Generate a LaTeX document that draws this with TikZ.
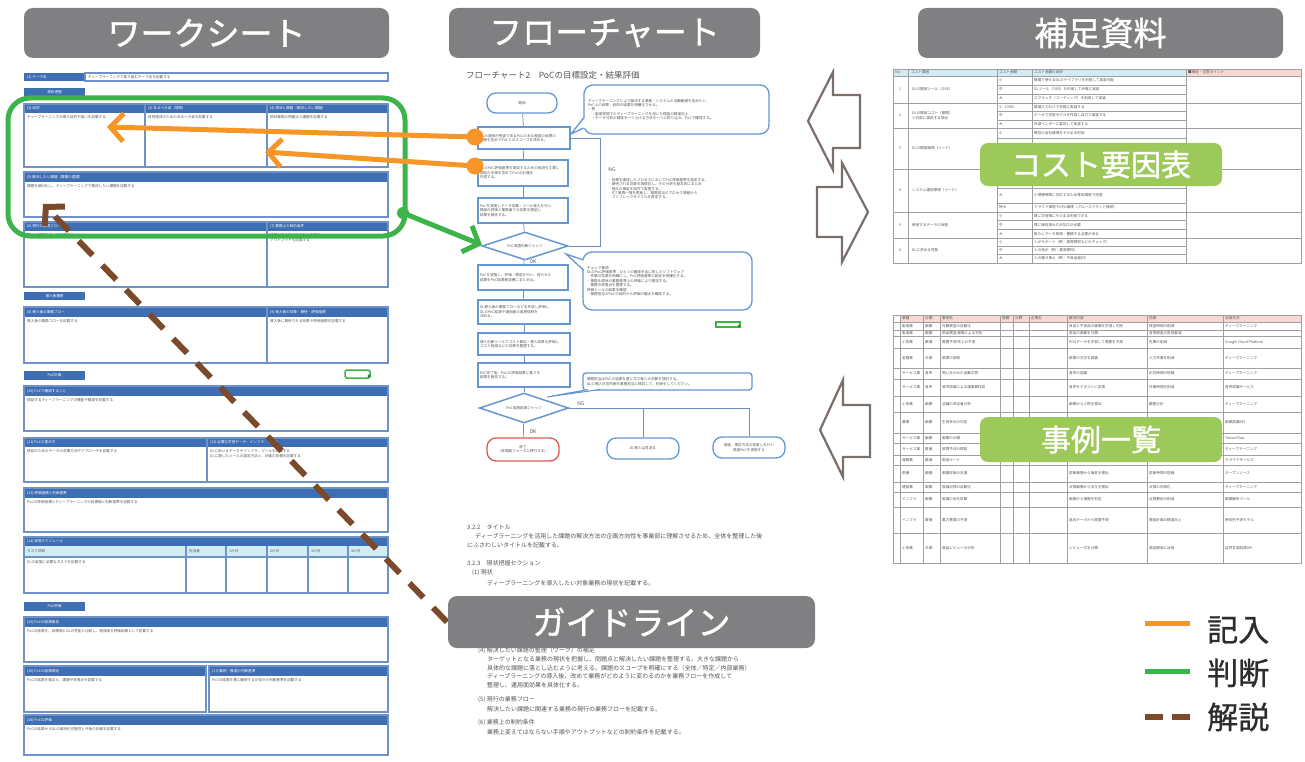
\documentclass[tikz,border=0pt]{standalone}
\usepackage{fontspec}
\setmainfont{Noto Sans CJK JP}
\newfontfamily\hdfont[FakeBold=1.2]{Noto Sans CJK JP}
\newfontfamily\lgfont[FakeBold=0.8]{Noto Sans CJK JP}
\usetikzlibrary{arrows.meta,shapes.geometric}
\definecolor{hdgray}{RGB}{128,128,130}
\definecolor{lblgreen}{RGB}{156,201,90}
\definecolor{wsblue}{RGB}{62,110,180}
\definecolor{wsedge}{RGB}{110,145,200}
\definecolor{orng}{RGB}{247,150,40}
\definecolor{grn}{RGB}{60,180,74}
\definecolor{brwn}{RGB}{122,74,43}
\definecolor{harrow}{RGB}{123,111,107}
\definecolor{fblue}{RGB}{100,150,210}
\definecolor{fred}{RGB}{220,90,80}
\definecolor{tgrid}{RGB}{160,160,160}
\definecolor{thblue}{RGB}{210,236,244}
\definecolor{thpink}{RGB}{248,216,208}
\definecolor{txtgray}{RGB}{85,85,85}
\definecolor{legtxt}{RGB}{45,45,45}
\newcommand\fsm{\fontsize{3.6}{4.4}\selectfont}
\newcommand\wsec[7]{%
  \fill[wsblue] (#1,#2) rectangle (#3,#4);
  \draw[wsline] (#1,#2) rectangle (#3,#5);
  \node[wshd] at (#1,{(#2+#4)/2}) {#6};
  \node[wsbd] at (#1,#4) {#7};}
\newcommand\wtab[3]{%
  \fill[wsblue] (24,#1) rectangle (85,#2);
  \node[text=white,font=\fsm,inner sep=0pt] at (54.5,{(#1+#2)/2}) {#3};}
\tikzset{
  hdr/.style={fill=hdgray, rounded corners=9pt, text=white, font=\hdfont\fontsize{33}{36}\selectfont, inner sep=0pt},
  glbl/.style={fill=lblgreen, rounded corners=8pt, text=white, font=\hdfont\fontsize{30}{33}\selectfont, inner sep=0pt},
  wsline/.style={draw=wsedge, line width=1.1pt},
  wshd/.style={anchor=west, text=white, font=\fsm, inner sep=0pt, xshift=3pt},
  wsbd/.style={anchor=north west, text=txtgray, font=\fsm, inner sep=0pt, xshift=3pt, yshift=-2.5pt, align=left},
  fbox/.style={draw=fblue, line width=1.3pt, fill=white, font=\fsm, text=txtgray, inner sep=2pt, align=left},
  fterm/.style={draw=fblue, line width=1.3pt, fill=white, font=\fsm, text=txtgray, inner sep=1pt, align=center, rounded corners=9pt},
  fdia/.style={draw=fblue, line width=1.5pt, fill=white, diamond, aspect=3, inner sep=0pt, font=\fsm, text=txtgray},
  fcon/.style={draw=fblue!70!gray, line width=0.7pt},
  flab/.style={font=\fontsize{5}{6}\selectfont, text=txtgray, inner sep=0pt},
  gtxt/.style={anchor=west, font=\fontsize{6}{7}\selectfont, text=txtgray, inner sep=0pt},
  tt/.style={anchor=west, font=\fsm, text=txtgray, inner sep=0pt},
  tline/.style={draw=tgrid, line width=0.6pt},
  harr/.style={draw=harrow, line width=2.2pt, fill=white, line join=miter},
  oarrow/.style={orng, line width=5pt, -{Straight Barb[length=13pt,width=28pt]}},
  garrow/.style={grn, line width=5pt, -{Straight Barb[length=13pt,width=28pt]}},
  barrow/.style={brwn, line width=6pt, dash pattern=on 20pt off 14pt, -{Straight Barb[length=13pt,width=28pt]}},
  legtext/.style={anchor=west, text=legtxt, font=\lgfont\fontsize{31}{34}\selectfont, inner sep=0pt}
}
\begin{document}
\begin{tikzpicture}[x=1pt,y=-1pt]
\useasboundingbox (0,0) rectangle (1305,762);
\fill[white] (0,0) rectangle (1305,762);

%================ worksheet =================
\fill[wsblue] (24,73) rectangle (85,81);
\node[wshd] (wst) at (24,77) {(1) テーマ名};
\draw[wsline] (85,73) rectangle (388,81);
\node[tt] (wstt) at (88,77) {ディープラーニングで取り組むテーマ名を記載する};
\wtab{88}{97}{現状把握}
\wsec{24}{104}{145}{113}{167}{(2) 目的}{ディープラーニングの導入目的や狙いを記載する}
\wsec{145}{104}{267}{113}{167}{(3) あるべき姿（理想）}{目的達成のためのあるべき姿を記載する}
\wsec{267}{104}{388}{113}{167}{(4) 現状と課題（解決したい課題）}{現状業務の問題点と課題を記載する}
\wsec{24}{172}{388}{182}{217}{(5) 解決したい課題（課題の整理）}{課題を細分化し、ディープラーニングで解決したい課題を記載する}
\wsec{24}{222}{267}{231}{287}{(6) 現行の業務フロー}{現行の業務フローを記載する}
\wsec{267}{222}{388}{231}{287}{(7) 業務上の制約条件}{業務上変えてはならない手順や\\アウトプットを記載する}
\wtab{292}{300}{導入後構想}
\wsec{24}{307}{267}{317}{363}{(8) 導入後の業務フロー}{導入後の業務フローを記載する}
\wsec{267}{307}{388}{317}{363}{(9) 導入後の効果・期待・評価指標}{導入後に期待される効果や評価指標を記載する}
\wtab{371}{380}{PoC計画}
\draw[grn, line width=1.5pt, fill=white, rounded corners=1.5pt] (345,370) rectangle (370,378);
\fill[grn!70!black] (369,376) circle (1.6);
\wsec{24}{386}{388}{396}{431}{(10) PoCで確認すること}{検証するディープラーニングの機能や精度を記載する}
\wsec{24}{438}{207}{447}{482}{(11) PoCの進め方}{検証のためのデータの収集方法やアプローチを記載する}
\wsec{207}{438}{388}{447}{482}{(12) 必要な学習データ・インフラ・ツール}{DLに用いるデータやインフラ、ツールを記載する\\DLに適したツールの選定方法と、計画の見積を記載する}
\wsec{24}{488}{388}{498}{532}{(13) 評価指標と判断基準}{PoCの評価指標とディープラーニングの目標値と判断基準を記載する}
\wsec{24}{537}{388}{546}{593}{(14) 実施スケジュール}{}
\fill[thblue] (24,546) rectangle (388,557);
\draw[wsline] (24,537) rectangle (388,593);
\draw[wsline] (24,557) -- (388,557);
\foreach \x in {186,226,267,308,348} \draw[wsline] (\x,546) -- (\x,593);
\foreach \x/\t in {27/タスク項目,189/担当者,229/1か月,270/2か月,311/3か月,351/4か月}
  \node[tt] at (\x,551.5) {\t};
\node[tt] (ws14) at (27,562) {DLの実施に必要なタスクを記載する};
\wtab{602}{611}{PoC評価}
\wsec{24}{617}{388}{627}{662}{(15) PoCの結果報告}{PoCの結果を、目標値とDLの性能と比較し、達成度を評価結果として記載する}
\wsec{24}{666}{206}{676}{712}{(16) PoCの結果検証}{PoCの結果を踏まえ、課題や改善点を記載する}
\wsec{209}{666}{388}{676}{712}{(17) 継続・撤退の判断基準}{PoCの結果を基に継続するか否かの判断基準を記載する}
\wsec{24}{715}{388}{725}{755}{(18) PoCの評価}{PoCの結果からDLの実用化可能性と今後の計画を記載する}

%================ flowchart =================
\node[anchor=west, font=\fontsize{8.5}{9}\selectfont, text=txtgray, inner sep=0pt] (ftitle) at (466,75) {フローチャート2　PoCの目標設定・結果評価};
\node[fterm, minimum width=70pt, minimum height=20pt] (fstart) at (522,103) {開始};
\node[fbox, text width=88pt, minimum height=22pt] (fb1) at (524,138) {DLの適用が有望であるPoCのある程度の目標の\\範囲を定めてPoCとのスコープを決める。};
\node[fbox, text width=86pt, minimum height=26pt] (fb2) at (523,173) {DLのPoC評価基準を達成するための仮説を立案し\\検証の手順を含めてPoCの計画を\\作成する。};
\node[fbox, text width=86pt, minimum height=25pt] (fb3) at (523,210.5) {PoCを実施しデータ収集・ツール導入を行い\\精度の評価と業務面での効果を検証し\\結果を報告する。};
\node[fdia, minimum width=86pt, minimum height=28pt] (fd1) at (525,246) {PoC実施判断ジャッジ};
\node[fbox, text width=86pt, minimum height=25pt] (fb4) at (523,277.5) {PoCを実施し、評価・検証を行い、得られた\\結果をPoC結果報告書にまとめる。};
\node[fbox, text width=88pt, minimum height=24pt] (fb5) at (524,312) {DL導入後の業務フローなどを作成し評価し\\DLのPoC結果や運用面の実施体制を\\決める。};
\node[fbox, text width=88pt, minimum height=22pt] (fb6) at (524,344) {導入判断ツールでコスト算出・導入効果を評価し\\コスト削減などの効果を整理する。};
\node[fbox, text width=88pt, minimum height=24pt] (fb7) at (524,375) {PoC完了後、PoCの評価結果に基づき\\結果を報告する。};
\node[fdia, minimum width=89pt, minimum height=30pt] (fd2) at (524,408) {PoC実施結果ジャッジ};
\node[fterm, draw=fred, minimum width=72pt, minimum height=23pt] (ft1) at (523,449.5) {終了\\(本開発フェーズに移行する)};
\node[fterm, minimum width=72pt, minimum height=21pt] (ft2) at (643,448.5) {DL導入は見送る};
\node[fterm, minimum width=72pt, minimum height=21pt] (ft3) at (749,447.5) {再度、検討方法の見直しを行い\\再度PoCを実施する};
% connectors
\draw[fcon] (fstart) -- (fb1);
\draw[fcon] (fb1) -- (fb2);
\draw[fcon] (fb2) -- (fb3);
\draw[fcon] (fb3) -- (fd1);
\draw[fcon] (fd1) -- (fb4);
\draw[fcon] (fb4) -- (fb5);
\draw[fcon] (fb5) -- (fb6);
\draw[fcon] (fb6) -- (fb7);
\draw[fcon] (fb7) -- (fd2);
\draw[fcon] (fd2) -- (ft1);
\coordinate (ngl1) at (600,138);
\coordinate (ngl2) at (600,246);
\draw[fcon] (fb1.east) -- (ngl1) -- (ngl2) -- (fd1.east);
\coordinate (ngA) at (643,408);
\coordinate (ngB) at (749,408);
\draw[fcon] (fd2.east) -- (ngB) -- (ft3.north);
\draw[fcon] (ngA) -- (ft2.north);
\node[flab] (lng1) at (612,170) {NG};
\node[flab] (lok1) at (533,262) {OK};
\node[flab] (lng2) at (581,404) {NG};
\node[flab] (lok2) at (533,432) {OK};
\node[anchor=north west, font=\fsm, text=txtgray, inner sep=0pt, align=left] (ngtxt) at (608,178)
 {・目標を達成したプロセスにおいてPoC評価基準を設定する。\\・期待される効果を再検討し、その分析を基本的にまとめ\\　強化の検証を試作で実施する。\\・ICT-業務一覧を更新し、業務担当のプロセス情報から\\　ブリフレックサイクルを再定する。};
% callouts
\node[fbox, rounded corners=9pt, text width=177pt, minimum height=49pt, inner sep=4pt] (fc1) at (676.5,109.5)
 {ディープラーニングにより解決する業務・システムの活動範囲を定めたい\\PoC上の目標・目的の結果を明確化させる。\\・例\\　・製造現場でのディープラーニングを用いた検査の精度向上\\　・データ分析の精度を一つ上げる方法を一つに絞り込み、PoCで確認する。};
\fill[white] (585,118) -- (571,134) -- (585,128) -- cycle;
\draw[fblue, line width=1.3pt] (583.5,118) -- (571,134) -- (583.5,128);
\node[fbox, rounded corners=9pt, text width=161pt, minimum height=58pt, inner sep=4pt] (fc2) at (667.5,281)
 {チェック事項\\DLのPoC評価基準：ひとつの開発手法に則したソフトウェア\\・作業の効果を明確にし、PoC評価基準の設定を明確化する。\\・業務を現状の業務基準上の評価により検証する。\\　業務の改善点を整理する。\\評価ツールの結果を確認\\・業務担当のPoCの目的から評価の観点を確認する。};
\fill[white] (585,260) -- (566,254) -- (585,270) -- cycle;
\draw[fblue, line width=1.3pt] (583.5,260) -- (566,254) -- (583.5,270);
\node[fbox, rounded corners=3pt, text width=161pt, minimum height=17pt, inner sep=4pt] (fc3) at (667.5,381.5)
 {業務担当はPoCの結果を基に次工程への判断を検討する。\\DLの導入可否判断を業務担当と検討して、判断をしてください。};
\fill[white] (588,389) -- (547,397) -- (600,389) -- cycle;
\draw[fblue, line width=1pt] (588,389.5) -- (547,397) -- (600,389.5);
\draw[grn, line width=1.2pt, fill=white] (716,322) rectangle (740,327);
\fill[grn!70!black] (739,326) circle (1.3);

%================ guideline text =================
\node[gtxt] (g1) at (467,527) {3.2.2　タイトル};
\node[gtxt] (g2) at (475,536) {ディープラーニングを活用した課題の解決方法の企画方向性を事業部に理解させるため、全体を整理した後};
\node[gtxt] (g3) at (467,545) {にふさわしいタイトルを記載する。};
\node[gtxt] (g4) at (467,563) {3.2.3　現状把握セクション};
\node[gtxt] (g5) at (472,573) {(1) 現状};
\node[gtxt] (g6) at (487,583) {ディープラーニングを導入したい対象業務の現状を記載する。};
\node[gtxt] (g7) at (478,651) {(4) 解決したい課題の整理（ワーク）の補足};
\node[gtxt] (g8) at (487,659.5) {ターゲットとなる業務の現状を把握し、問題点と解決したい課題を整理する。大きな課題から};
\node[gtxt] (g9) at (487,668) {具体的な課題に落とし込むように考える。課題のスコープを明確にする（全体／特定／内部業務）};
\node[gtxt] (g10) at (487,676.5) {ディープラーニングの導入後、改めて業務がどのように変わるのかを業務フローを作成して};
\node[gtxt] (g11) at (487,685) {整理し、運用面効果を具体化する。};
\node[gtxt] (g12) at (478,700) {(5) 現行の業務フロー};
\node[gtxt] (g13) at (487,709) {解決したい課題に関連する業務の現行の業務フローを記載する。};
\node[gtxt] (g14) at (478,723) {(6) 業務上の制約条件};
\node[gtxt] (g15) at (487,732) {業務上変えてはならない手順やアウトプットなどの制約条件を記載する。};

%================ cost table =================
\fill[thblue] (893,69) rectangle (1186,76);
\fill[thpink] (1186,69) rectangle (1301,76);
\foreach \x in {908,997,1032,1186} \draw[tline] (\x,69) -- (\x,263);
\foreach \y in {76,103,128,169,212,238} \draw[tline] (893,\y) -- (1301,\y);
\foreach \y in {85,94,111,120,138,148,158,178,188,203,220.7,229.3,246,254} \draw[tline] (997,\y) -- (1186,\y);
\draw[tline] (893,69) rectangle (1301,263);
\node[tt] at (895,72.5) {No.};
\node[tt] at (911,72.5) {コスト要因};
\node[tt] at (999,72.5) {コスト金額};
\node[tt] at (1034,72.5) {コスト金額の目安};
\node[tt] at (1188,72.5) {■補足・注意ポイント};
\foreach \n/\y in {1/89.5,2/115.5,3/148.5,4/190.5,5/225,6/250.5} \node[tt] at (899,\y) {\n};
\node[tt] at (912,89.5) {DLの開発ツール（OSS）};
\node[tt, align=left] at (912,115.5) {DLの開発コスト（期間）\\※外部に委託する場合};
\node[tt] at (912,148.5) {DLの開発環境（リード）};
\node[tt] at (912,190.5) {システム運用環境（リード）};
\node[tt] at (912,225) {使用するデータの状態};
\node[tt] at (912,250.5) {DLに求める性能};
\foreach \y/\a/\b in {
  80.5/小/無償で使えるDLのライブラリを利用して実装可能,
  89.5/中/DLツール（OSS）を利用して手軽に実装,
  98.5/大/スクラッチ（コーディング）を利用して実装,
  107/小（OSS）/数値入力だけで手軽に実装する,
  115.5/中/データで学習モデルを作成し自力で実装する,
  124/大/外部ベンダーに委託して実装する,
  133/小/既存の自社環境をそのまま利用,
  195.5/大/小規模時間に対応するため専用環境で用意,
  207.5/特大/クラウド環境でGPU環境（クローズドネット接続）,
  216.3/小/既に学習用にそのまま利用できる,
  225/中/既に保存済みだが加工が必要,
  233.7/大/新たにデータ取得・蓄積する必要がある,
  242/小/人がサポート（例：故障検知などのチェック）,
  250/中/人の指示（例：異常検知）,
  258.5/大/人の置き換え（例：不良品選別）}
{ \node[tt] at (999,\y) {\a}; \node[tt] at (1034,\y) {\b}; }

%================ case table =================
\fill[thpink] (900,315) rectangle (1301,322);
\foreach \x in {900,923,940,1000,1013,1029,1067,1147,1223} \draw[tline] (\x,315) -- (\x,563);
\foreach \y in {322,330,336,348,368,379,396,412,433,443,455,465,482,492,507,533} \draw[tline] (893,\y) -- (1301,\y);
\draw[tline] (893,315) rectangle (1301,563);
\foreach \x/\t in {902/業種,925/分類,942/事例名,1002/規模,1015/分野,1031/企業名,1069/解決内容,1149/効果,1225/活用手法}
  \node[tt] at (\x,318.5) {\t};
\foreach \ya/\yb/\i/\t/\n/\c/\e/\m in {
  322/330/製造業/画像/外観検査の自動化/良品と不良品の画像を学習し判別/検査時間の削減/ディープラーニング,
  330/336/製造業/画像/部品検査 画像による判別/部品の画像を分類/目視検査の負担軽減/ ,
  336/348/小売業/数値/需要予測 売上の予測/POSデータを学習して需要を予測/在庫の削減/Google Cloud Platform,
  348/368/金融業/文章/帳票の読取/帳票の文字を認識/入力作業を削減/ディープラーニング,
  368/379/サービス業/音声/問い合わせの自動応答/音声の認識/応対時間の短縮/ディープラーニング,
  379/396/サービス業/音声/音声認識による議事録作成/音声をテキストに変換/作業時間を削減/音声認識サービス,
  396/412/小売業/画像/店舗の来店者分析/画像から人物を検出/顧客分析/ディープラーニング,
  412/433/農業/画像/生育状況の判定/ / /画像認識API,
  433/443/サービス業/画像/画像の分類/ / /TensorFlow,
  443/455/サービス業/数値/故障予兆の検知/ / /ディープラーニング,
  455/465/運輸業/数値/配送ルート/ / /クラウドサービス,
  465/482/医療/画像/画像診断の支援/診断画像から病変を検出/診断時間の短縮/オープンソース,
  482/492/建設業/画像/設備点検の自動化/点検画像から劣化を検出/点検の効率化/ディープラーニング,
  492/507/インフラ/画像/設備の劣化診断/画像から損傷を判定/点検費用の削減/画像解析ツール,
  507/533/インフラ/数値/電力需要の予測/過去データから需要予測/需給計画の精度向上/時系列予測モデル,
  533/563/小売業/文章/商品レビューの分析/レビュー文を分類/商品開発に活用/自然言語処理API}
{
  \node[tt] at (902,{(\ya+\yb)/2}) {\i};
  \node[tt] at (925,{(\ya+\yb)/2}) {\t};
  \node[tt] at (942,{(\ya+\yb)/2}) {\n};
  \node[tt] at (1069,{(\ya+\yb)/2}) {\c};
  \node[tt] at (1149,{(\ya+\yb)/2}) {\e};
  \node[tt] at (1225,{(\ya+\yb)/2}) {\m};
}

%================ hollow arrows =================
\draw[harr] (808,121) -- (833,72) -- (833,95) -- (860,95) -- (860,148) -- (833,148) -- (833,170) -- cycle;
\draw[harr] (868,212) -- (842,163) -- (842,187) -- (817,187) -- (817,237) -- (842,237) -- (842,262) -- cycle;
\draw[harr] (820,430) -- (843,380) -- (843,405) -- (870,405) -- (870,457) -- (843,457) -- (843,477) -- cycle;

%================ highlight and connectors =================
\draw[grn, line width=5pt, rounded corners=22pt] (8,98) rectangle (405,236);
\coordinate (gs) at (403,213);
\coordinate (ge) at (482,245);
\fill[grn] (gs) circle (6);
\draw[garrow] (gs) -- (ge);
\coordinate (bs) at (447,622);
\coordinate (be) at (43,204);
\draw[barrow] (bs) -- (be);
\coordinate (o1s) at (475,137);
\coordinate (o1e) at (107,127);
\coordinate (o2s) at (475,166);
\coordinate (o2e) at (265,152);
\draw[oarrow] (o1s) -- (o1e);
\draw[oarrow] (o2s) -- (o2e);
\fill[orng] (o1s) circle (8.5);
\fill[orng] (o2s) circle (8.5);

%================ headers and labels =================
\node[hdr, minimum width=365pt, minimum height=50pt] (h1) at (206.5,33) {ワークシート};
\node[hdr, minimum width=311pt, minimum height=50pt] (h2) at (604.5,33) {フローチャート};
\node[hdr, minimum width=365pt, minimum height=50pt] (h3) at (1100.5,33) {補足資料};
\node[hdr, minimum width=367pt, minimum height=52pt] (h4) at (631.5,622) {ガイドライン};
\node[glbl, minimum width=242pt, minimum height=43pt] (l1) at (1101,164.5) {コスト要因表};
\node[glbl, minimum width=242pt, minimum height=45pt] (l2) at (1101,439.5) {事例一覧};

%================ legend =================
\coordinate (lo1) at (1145,623); \coordinate (lo2) at (1190,623);
\coordinate (lg1) at (1145,671); \coordinate (lg2) at (1190,671);
\draw[orng, line width=5pt] (lo1) -- (lo2);
\draw[grn, line width=5pt] (lg1) -- (lg2);
\draw[brwn, line width=5.5pt] (1145,717) -- (1163,717);
\draw[brwn, line width=5.5pt] (1172,717) -- (1190,717);
\node[legtext] (t1) at (1207,630) {記入};
\node[legtext] (t2) at (1207,673) {判断};
\node[legtext] (t3) at (1207,717) {解説};
\end{tikzpicture}
\end{document}
